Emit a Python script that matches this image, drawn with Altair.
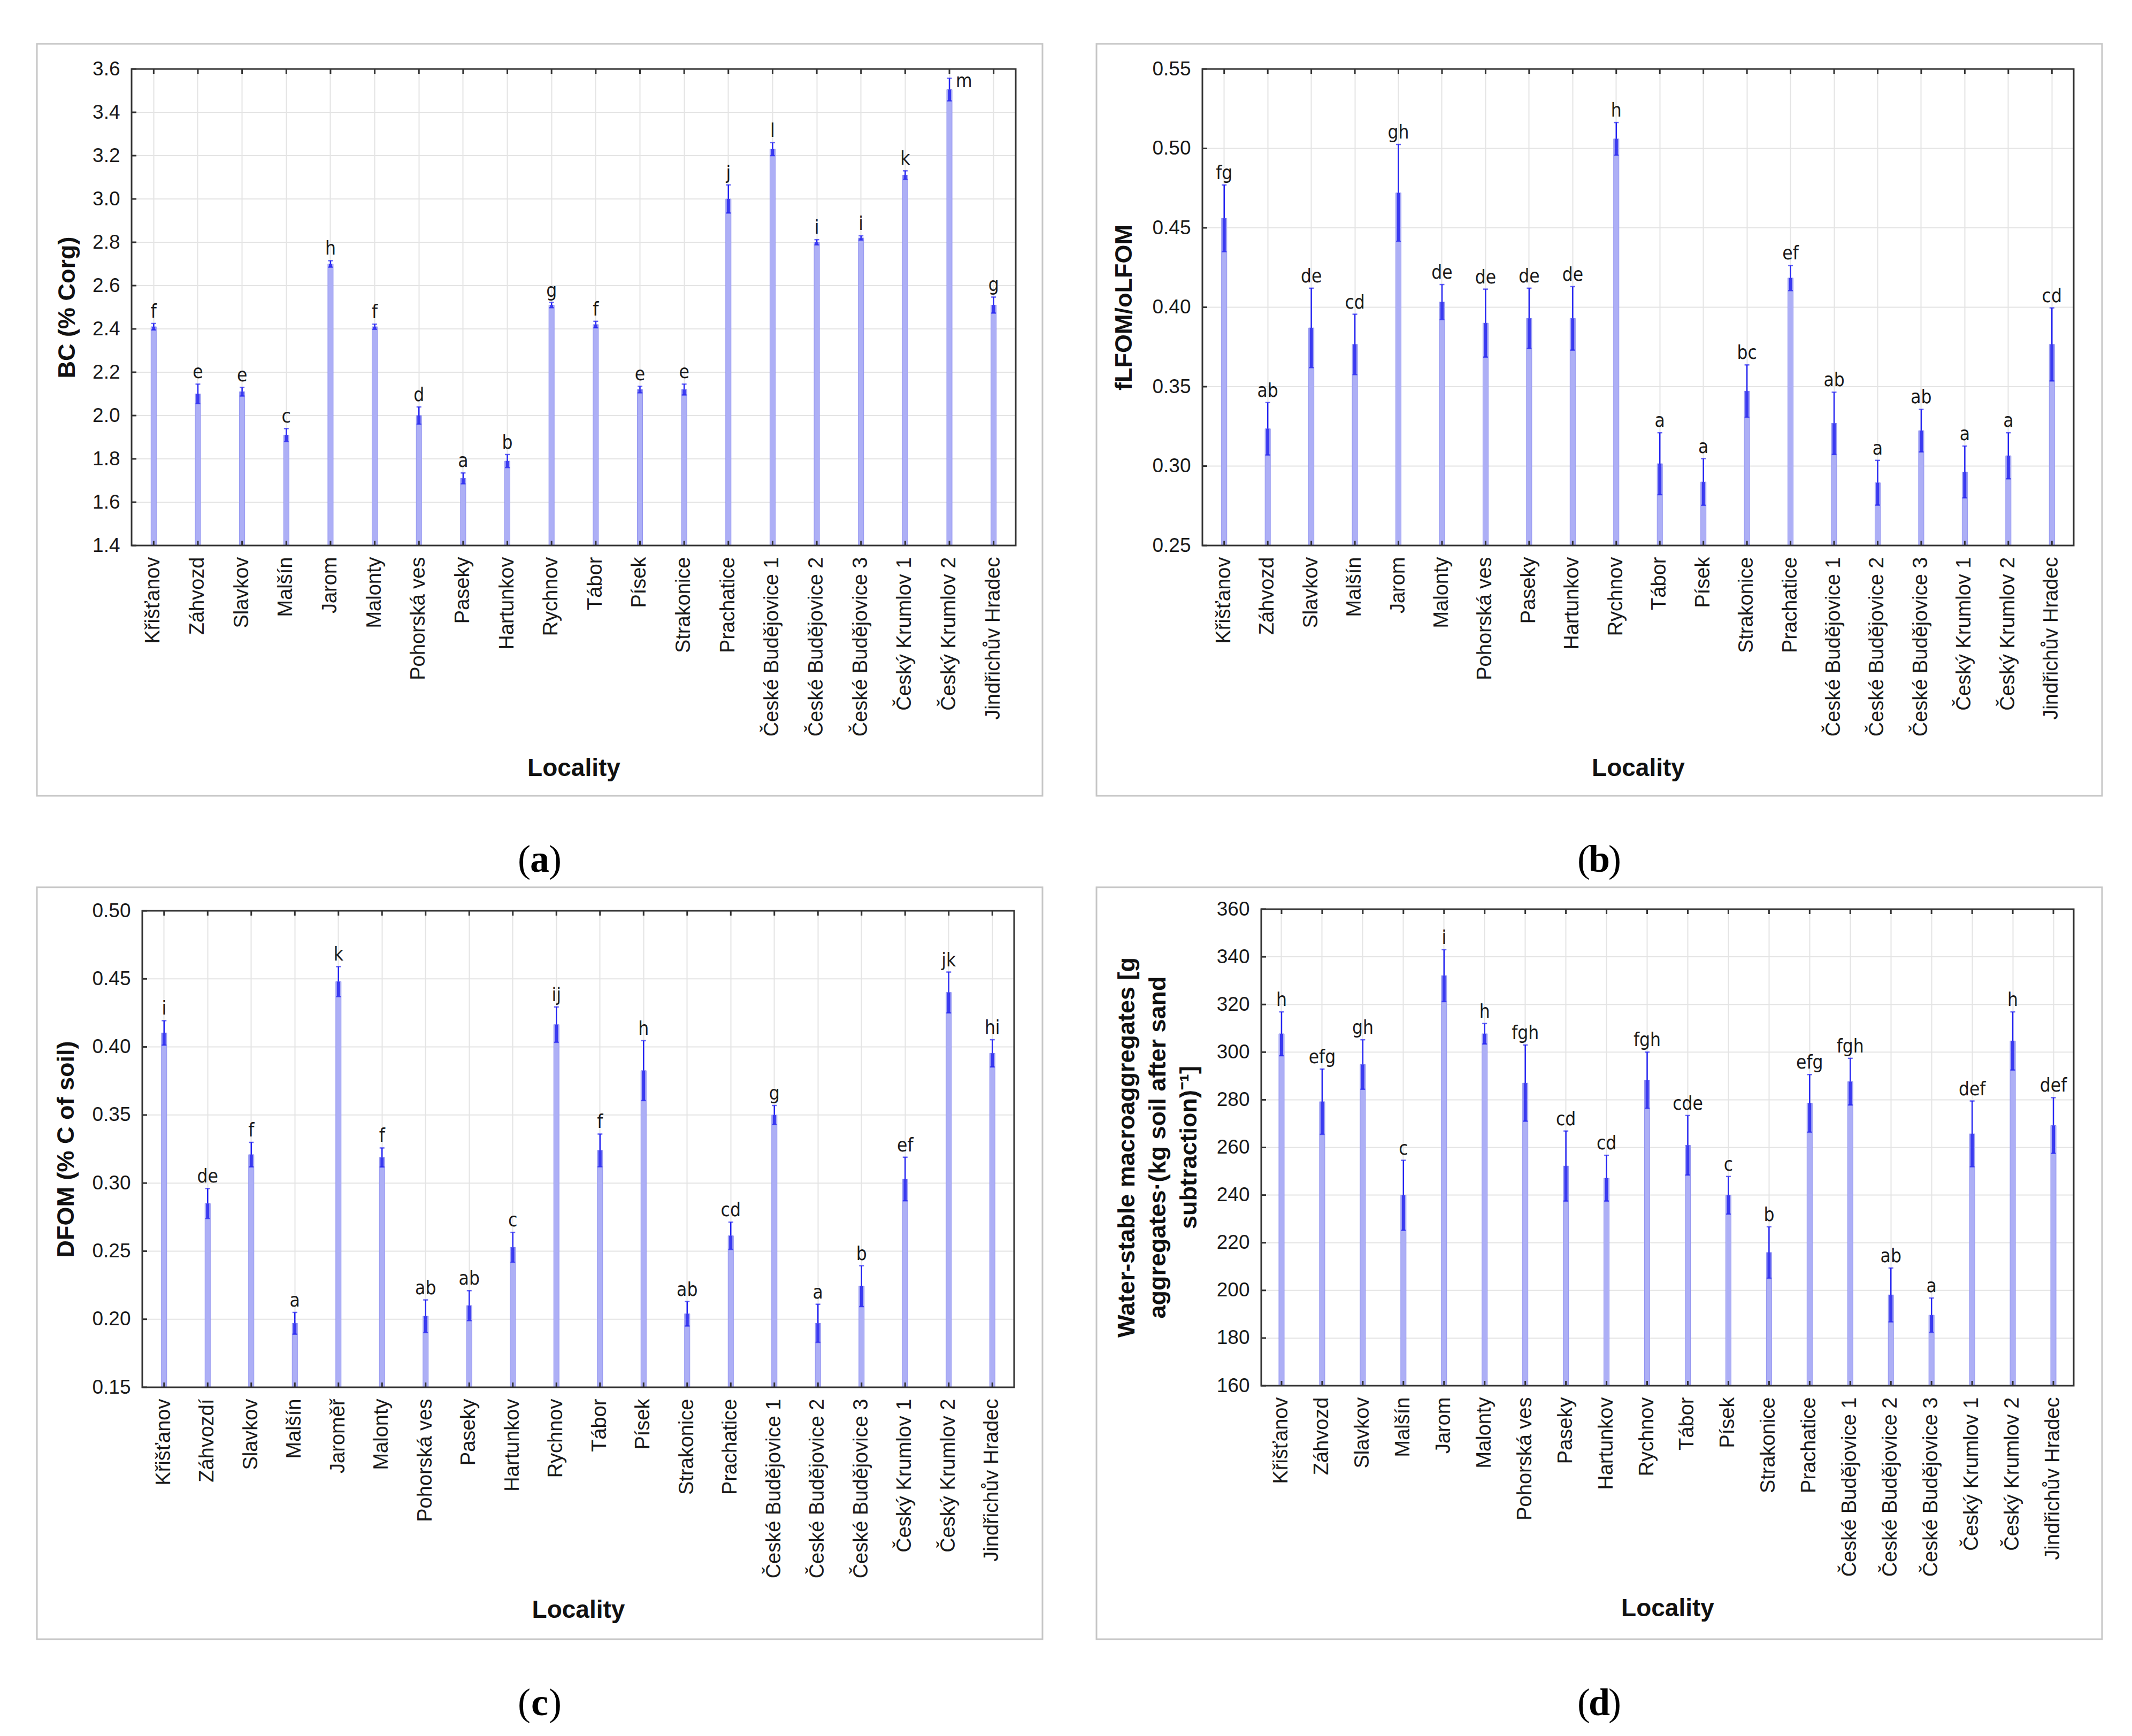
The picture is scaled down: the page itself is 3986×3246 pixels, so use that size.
import altair as alt
import pandas as pd

# ---------------- data ----------------
cats_abd = ["Křišťanov", "Záhvozd", "Slavkov", "Malšín", "Jarom", "Malonty",
            "Pohorská ves", "Paseky", "Hartunkov", "Rychnov", "Tábor", "Písek",
            "Strakonice", "Prachatice", "České Budějovice 1", "České Budějovice 2",
            "České Budějovice 3", "Český Krumlov 1", "Český Krumlov 2", "Jindřichův Hradec"]
cats_c = ["Křišťanov", "Záhvozdí", "Slavkov", "Malšín", "Jaroměř", "Malonty",
          "Pohorská ves", "Paseky", "Hartunkov", "Rychnov", "Tábor", "Písek",
          "Strakonice", "Prachatice", "České Budějovice 1", "České Budějovice 2",
          "České Budějovice 3", "Český Krumlov 1", "Český Krumlov 2", "Jindřichův Hradec"]

mean_a = [2.41, 2.10, 2.11, 1.91, 2.70, 2.41, 2.00, 1.71, 1.79, 2.51,
          2.42, 2.12, 2.12, 3.00, 3.23, 2.80, 2.82, 3.11, 3.505, 2.51]
err_a = [0.015, 0.045, 0.02, 0.03, 0.015, 0.012, 0.04, 0.025, 0.03, 0.012,
         0.015, 0.015, 0.025, 0.065, 0.03, 0.012, 0.01, 0.02, 0.052, 0.037]
let_a = ["f", "e", "e", "c", "h", "f", "d", "a", "b", "g",
         "f", "e", "e", "j", "l", "i", "i", "k", "m", "g"]

mean_b = [0.456, 0.3235, 0.387, 0.3766, 0.472, 0.4033, 0.390, 0.393, 0.393, 0.506,
          0.3015, 0.290, 0.3472, 0.4184, 0.3269, 0.2895, 0.3223, 0.2963, 0.3065, 0.3766]
err_b = [0.021, 0.0165, 0.025, 0.019, 0.0305, 0.011, 0.0214, 0.019, 0.020, 0.0103,
         0.0195, 0.0147, 0.0165, 0.0079, 0.0196, 0.0141, 0.0134, 0.0163, 0.0145, 0.023]
let_b = ["fg", "ab", "de", "cd", "gh", "de", "de", "de", "de", "h",
         "a", "a", "bc", "ef", "ab", "a", "ab", "a", "a", "cd"]

mean_c = [0.4103, 0.285, 0.3209, 0.197, 0.448, 0.3188, 0.2022, 0.210, 0.2528, 0.4164,
          0.324, 0.3826, 0.204, 0.2613, 0.350, 0.197, 0.2243, 0.303, 0.440, 0.3953]
err_c = [0.009, 0.011, 0.009, 0.008, 0.011, 0.007, 0.012, 0.011, 0.011, 0.013,
         0.012, 0.022, 0.009, 0.010, 0.007, 0.014, 0.015, 0.016, 0.015, 0.010]
let_c = ["i", "de", "f", "a", "k", "f", "ab", "ab", "c", "ij",
         "f", "h", "ab", "cd", "g", "a", "b", "ef", "jk", "hi"]

mean_d = [307.7, 279.2, 294.8, 239.9, 332.1, 307.7, 287.0, 252.2, 247.1, 288.2,
          260.9, 239.9, 215.9, 278.5, 287.6, 198.1, 189.6, 265.7, 304.7, 269.2]
err_d = [9.2, 13.7, 10.4, 14.7, 10.9, 4.3, 16.0, 14.7, 9.6, 11.8,
         12.5, 7.9, 10.8, 12.1, 9.8, 11.3, 7.2, 13.8, 12.2, 11.7]
let_d = ["h", "efg", "gh", "c", "i", "h", "fgh", "cd", "cd", "fgh",
         "cde", "c", "b", "efg", "fgh", "ab", "a", "def", "h", "def"]

ticks_a = [1.4, 1.6, 1.8, 2.0, 2.2, 2.4, 2.6, 2.8, 3.0, 3.2, 3.4, 3.6]
ticks_b = [0.25, 0.30, 0.35, 0.40, 0.45, 0.50, 0.55]
ticks_c = [0.15, 0.20, 0.25, 0.30, 0.35, 0.40, 0.45, 0.50]
ticks_d = [160, 180, 200, 220, 240, 260, 280, 300, 320, 340, 360]

title_d = ["Water-stable macroaggregates  [g", "aggregates·(kg soil after sand",
           "subtraction)⁻¹]"]

side_a = ["Český Krumlov 2"]

# ---------------- styles ----------------
SANS = "Liberation Sans"
NARROW = "Liberation Sans Narrow, DejaVu Sans Condensed, Liberation Sans"
SERIF = "Liberation Serif"
H = 891
ROW_PITCH = 1574
BAR_FILL = "#adaff6"
BAR_STROKE = "#9193f0"
ERR_DARK = "#3a3af0"
ERR_LINE = "#2424f2"
GRID = "#e4e4e4"
FRAME = "#333333"
LETTER_SIZE = 35


def panel(cats, means, errs, letters, ticks, fmt, ytitle, W, box, title_x,
          cap_x, cap_y, cap_letter, side=None, shift=0, title_lines=None, line_h=58):
    """W = plot width measured from the view origin; the plotted band range
    starts `shift` px left of the origin."""
    df = pd.DataFrame({"loc": cats, "mean": means, "err": errs, "letter": letters})
    df["lo"] = df["mean"] - df["err"]
    df["hi"] = df["mean"] + df["err"]

    xaxis = alt.Axis(title="Locality", labelAngle=270, labelFont=SANS, labelFontSize=38,
                     labelColor="#1a1a1a", labelPadding=21, labelLimit=0, ticks=False,
                     domain=False, grid=True, gridColor=GRID, gridWidth=2, bandPosition=0.5,
                     titleFont=SANS, titleFontSize=46, titleFontWeight="bold",
                     titleColor="#111111", titleX=(W - shift) / 2, titleY=416,
                     titleBaseline="middle")
    yaxis = alt.Axis(title=ytitle, values=ticks, format=fmt, labelFont=SANS, labelFontSize=37,
                     labelColor="#1a1a1a", labelPadding=22, ticks=False, domain=False,
                     grid=False, offset=shift,
                     titleFont=SANS, titleFontSize=45, titleFontWeight="bold",
                     titleColor="#111111", titleX=title_x, titleY=H / 2, titleAngle=270,
                     titleAlign="center", titleBaseline="middle")
    yscale = alt.Scale(domain=[ticks[0], ticks[-1]], nice=False, zero=False)
    X = alt.X("loc:N", sort=cats,
              scale=alt.Scale(paddingInner=0, paddingOuter=0, range=[-shift, W]), axis=xaxis)

    tdf = alt.Chart(pd.DataFrame({"t": ticks}))
    grid = tdf.mark_rule(color=GRID, strokeWidth=2).encode(
        y=alt.Y("t:Q", scale=yscale, axis=yaxis), x=alt.value(-shift), x2=alt.value(W))
    lticks = tdf.mark_rule(color=FRAME, strokeWidth=3).encode(
        y=alt.Y("t:Q", scale=yscale, axis=yaxis), x=alt.value(-shift), x2=alt.value(-shift + 9))

    base = alt.Chart(df)
    bars = base.mark_bar(width=10, fill=BAR_FILL, stroke=BAR_STROKE, strokeWidth=1).encode(
        x=X, y=alt.Y("mean:Q", scale=yscale, axis=yaxis), y2=alt.datum(ticks[0]))
    errlow = base.mark_bar(width=6, color=ERR_DARK).encode(
        x=X, y=alt.Y("lo:Q", scale=yscale, axis=yaxis), y2="mean:Q")
    rule = base.mark_rule(color=ERR_LINE, strokeWidth=2.5).encode(
        x=X, y=alt.Y("mean:Q", scale=yscale, axis=yaxis), y2="hi:Q")
    cap_t = base.mark_tick(color=ERR_LINE, thickness=2.5, size=9).encode(
        x=X, y=alt.Y("hi:Q", scale=yscale, axis=yaxis))
    cap_b = base.mark_tick(color=ERR_LINE, thickness=2.5, size=9).encode(
        x=X, y=alt.Y("lo:Q", scale=yscale, axis=yaxis))
    tticks = base.mark_rule(color=FRAME, strokeWidth=3).encode(
        x=X, y=alt.value(0), y2=alt.value(9))
    bticks = base.mark_rule(color=FRAME, strokeWidth=3).encode(
        x=X, y=alt.value(H - 9), y2=alt.value(H))

    side = side or []
    txt = base.transform_filter(
        {"not": alt.FieldOneOfPredicate(field="loc", oneOf=side if side else ["__none__"])}
    ).mark_text(baseline="bottom", dy=-4, font=NARROW, fontSize=LETTER_SIZE,
                color="#1a1a1a").encode(
        x=X, y=alt.Y("hi:Q", scale=yscale, axis=yaxis), text="letter:N")
    layers = [grid, bars, errlow, rule, cap_t, cap_b, txt]
    if side:
        stxt = base.transform_filter(alt.FieldOneOfPredicate(field="loc", oneOf=side)).mark_text(
            align="left", baseline="alphabetic", dx=12, dy=17, font=NARROW,
            fontSize=LETTER_SIZE, color="#1a1a1a").encode(
            x=X, y=alt.Y("hi:Q", scale=yscale, axis=yaxis), text="letter:N")
        layers.append(stxt)

    one = alt.Chart(pd.DataFrame({"k": [0]}))
    plot_frame = one.mark_rect(fillOpacity=0, stroke=FRAME, strokeWidth=3).encode(
        x=alt.value(-shift), x2=alt.value(W), y=alt.value(0), y2=alt.value(H))
    layers += [lticks, tticks, bticks, plot_frame]

    if title_lines:
        for i, line in enumerate(title_lines):
            layers.append(one.mark_text(
                font=SANS, fontSize=45, fontWeight="bold", color="#111111", angle=270,
                align="center", baseline="middle").encode(
                x=alt.value(title_x + i * line_h), y=alt.value(H / 2), text=alt.value(line)))

    bx0, bx1, by0, by1 = box
    frame = one.mark_rect(fillOpacity=0, stroke="#c6c6c6", strokeWidth=3).encode(
        x=alt.value(bx0), x2=alt.value(bx1), y=alt.value(by0), y2=alt.value(by1))
    spacer = one.mark_rect(opacity=0).encode(
        x=alt.value(bx0), x2=alt.value(bx1), y=alt.value(by0),
        y2=alt.value(by0 + ROW_PITCH))
    c1 = one.mark_text(font=SERIF, fontSize=72, align="right", baseline="middle",
                       color="#000000").encode(x=alt.value(cap_x - 17), y=alt.value(cap_y),
                                               text=alt.value("("))
    c2 = one.mark_text(font=SERIF, fontSize=72, fontWeight="bold", align="center",
                       baseline="middle", color="#000000").encode(
        x=alt.value(cap_x), y=alt.value(cap_y), text=alt.value(cap_letter))
    c3 = one.mark_text(font=SERIF, fontSize=72, align="left", baseline="middle",
                       color="#000000").encode(x=alt.value(cap_x + 17), y=alt.value(cap_y),
                                               text=alt.value(")"))
    return alt.layer(spacer, frame, *layers, c1, c2, c3).properties(width=W, height=H)


# panel a: view origin placed 20 px right of its plotted area so that the
# first column's origins line up (its band range starts at -20)
pa = panel(cats_abd, mean_a, err_a, let_a, ticks_a, ".1f", "BC (% Corg)", 1633,
           (-197, 1683, -47, 1359), -121, 743, 1479, "a", side=side_a, shift=20)
pb = panel(cats_abd, mean_b, err_b, let_b, ticks_b, ".2f", "fLFOM/oLFOM", 1629,
           (-198, 1682, -47, 1359), -147, 742, 1479, "b")
pc = panel(cats_c, mean_c, err_c, let_c, ticks_c, ".2f", "DFOM (% C of soil)", 1630,
           (-197, 1683, -44, 1362), -143, 743, 1482, "c")
pd_ = panel(cats_abd, mean_d, err_d, let_d, ticks_d, "d", "", 1519,
            (-308, 1572, -41, 1365), -251, 632, 1485, "d", title_lines=title_d)

chart = alt.concat(
    pa, pb, pc, pd_, columns=2,
).properties(
    align="none",
    spacing={"row": 0, "column": 97},
    padding={"left": 59, "top": 72, "right": 20, "bottom": 10},
    background="white",
).configure_view(stroke="transparent")

chart.save("out.html", embed_options={"renderer": "svg", "actions": False})
